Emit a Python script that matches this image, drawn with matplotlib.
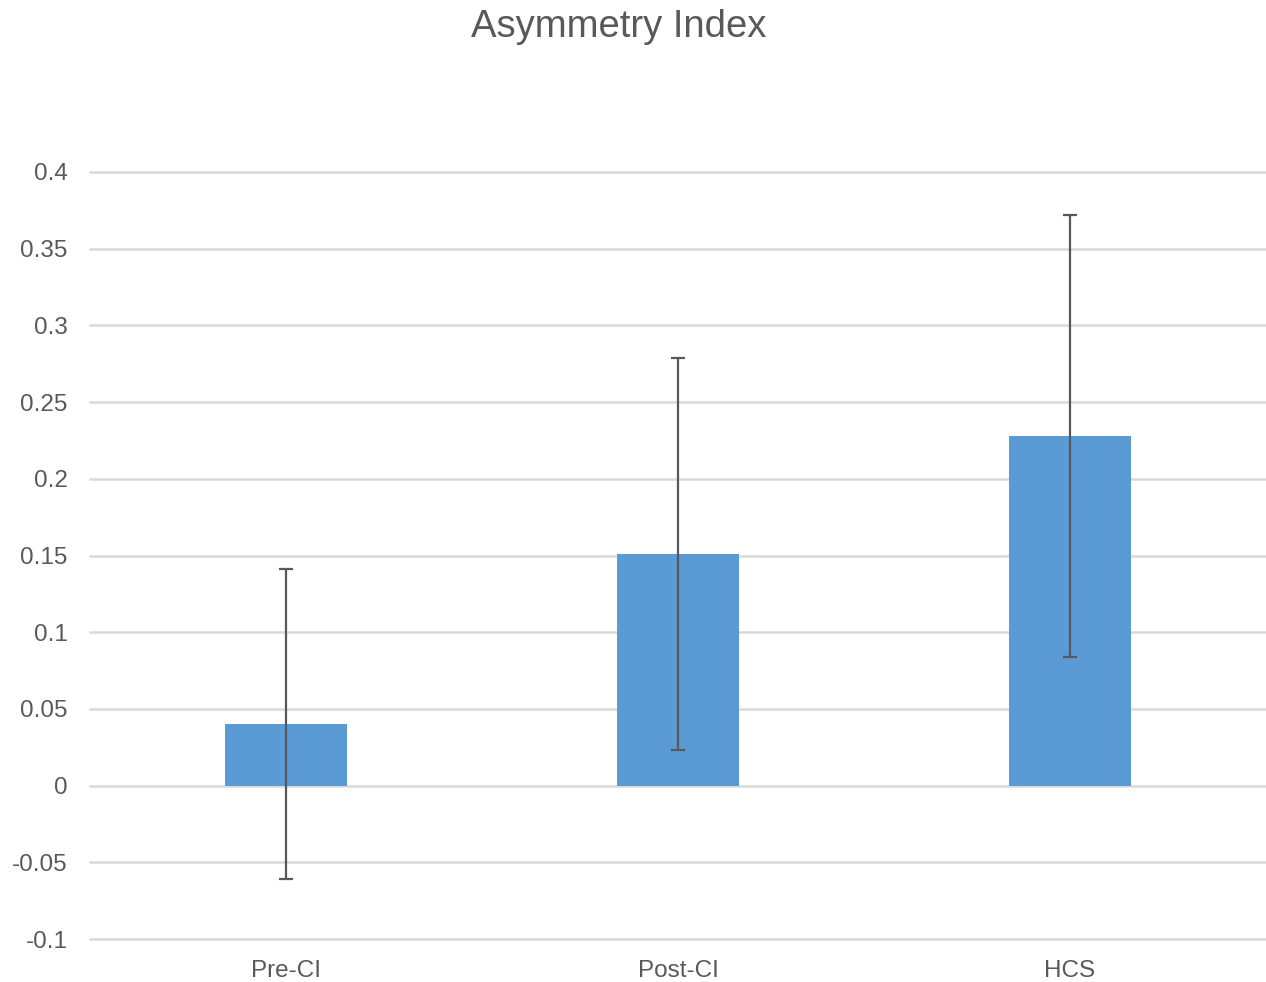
import matplotlib.pyplot as plt
import numpy as np

# dados
categorias = ["Pre-CI", "Post-CI", "HCS"]
medias = [0.040, 0.151, 0.228]
erro_sup = [0.101, 0.128, 0.144]
erro_inf = [0.101, 0.128, 0.144]
yticks = [-0.1, -0.05, 0, 0.05, 0.1, 0.15, 0.2, 0.25, 0.3, 0.35, 0.4]
ytick_labels = ["-0.1", "-0.05", "0", "0.05", "0.1", "0.15", "0.2", "0.25", "0.3", "0.35", "0.4"]

plt.rcParams['font.family'] = ['Liberation Sans', 'DejaVu Sans']

fig = plt.figure(figsize=(12.66, 9.82), dpi=100)
ax = fig.add_axes([90/1266, 1 - 939/982, 1 - 90/1266, (939 - 172)/982])

x = np.arange(len(categorias))
ax.bar(x, medias, width=0.313, color="#5B9BD5", zorder=2)
ax.errorbar(x, medias, yerr=[erro_inf, erro_sup], fmt='none', ecolor="#595959",
            elinewidth=1.6, capsize=5, capthick=1.6, zorder=3)

ax.set_xlim(-0.5, 2.5)
ax.set_ylim(-0.1, 0.4)
ax.set_yticks(yticks)
ax.set_yticklabels(ytick_labels)
ax.set_xticks(x)
ax.set_xticklabels(categorias)
ax.grid(axis='y', color="#D9D9D9", linewidth=1.8, zorder=0)
ax.set_axisbelow(True)
for gl in ax.get_ygridlines():
    gl.set_clip_on(False)
for s in ax.spines.values():
    s.set_visible(False)
ax.tick_params(axis='both', length=0, labelsize=17.5, colors="#595959")
ax.tick_params(axis='y', pad=16)
ax.tick_params(axis='x', pad=15)

fig.text(0.4886, 1 - 27/982, "Asymmetry Index", ha='center', va='center', fontsize=27.5, color="#595959")

fig.savefig("out.png", dpi=100)
